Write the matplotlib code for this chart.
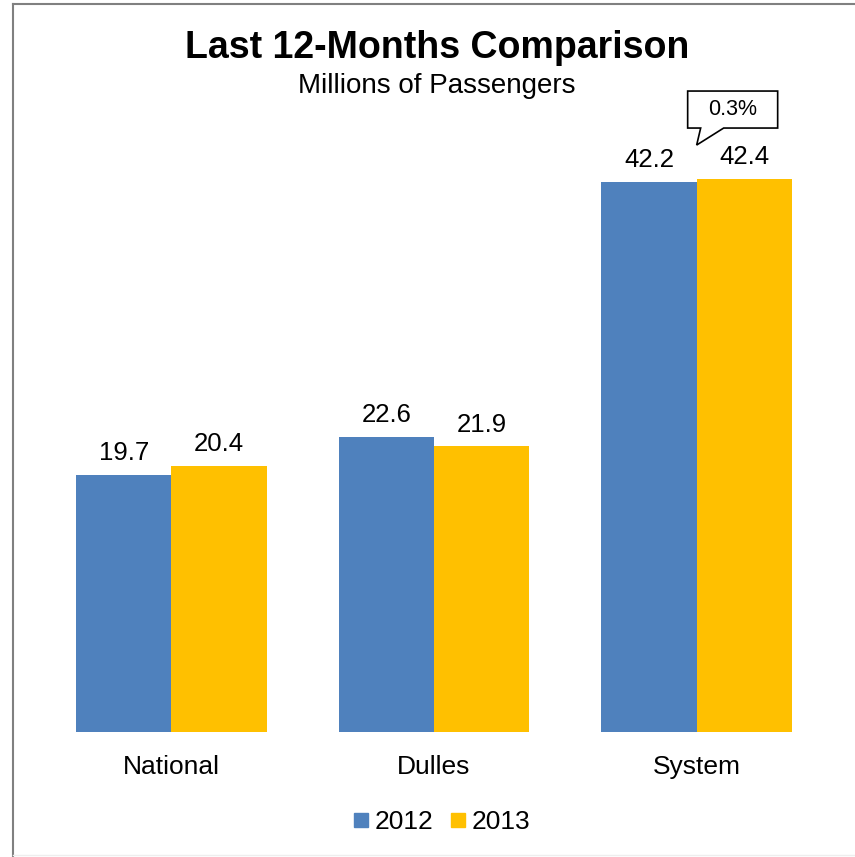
import numpy as np
import matplotlib.pyplot as plt
import matplotlib.transforms as mtransforms
from matplotlib.lines import Line2D
from matplotlib.patches import Polygon

plt.rcParams['font.family'] = ['Liberation Sans', 'DejaVu Sans']

categories = ['National', 'Dulles', 'System']
years = ['2012', '2013']
vals_2012 = [19.7, 22.6, 42.2]
vals_2013 = [20.4, 21.9, 42.4]
colors = ['#4F81BD', '#FFC000']
change_label = '0.3%'

fig = plt.figure(figsize=(8.55, 8.57), dpi=100)
ax = fig.add_axes([40/855, 125/857, 788/855, 600/857])

x = np.arange(len(categories))
w = 0.3625
b1 = ax.bar(x - w/2, vals_2012, w, color=colors[0], label=years[0])
b2 = ax.bar(x + w/2, vals_2013, w, color=colors[1], label=years[1])

for bars, vals in [(b1, vals_2012), (b2, vals_2013)]:
    for r, v in zip(bars, vals):
        ax.annotate(f'{v:.1f}', (r.get_x() + r.get_width()/2, v),
                    xytext=(0, 7), textcoords='offset points',
                    ha='center', va='bottom', fontsize=18.5)

# callout for system change: shape in points relative to its tip
tip_x, tip_y = x[2], vals_2013[2] + 2.6
trans = (mtransforms.Affine2D().scale(fig.dpi / 72)
         + mtransforms.ScaledTranslation(tip_x, tip_y, ax.transData))
shape = np.array([(0, 0), (27, 17), (81, 17), (81, 54), (-9, 54), (-9, 17), (4, 17)]) * 0.72
ax.add_patch(Polygon(shape, closed=True, fc='white', ec='black', lw=1.2,
                     transform=trans, clip_on=False))
ax.text(36 * 0.72, 36 * 0.72, change_label, transform=trans, ha='center', va='center',
        fontsize=15.5)

ax.set_xlim(-0.5, 2.5)
ax.set_ylim(0, 46)
ax.set_xticks(x)
ax.set_xticklabels(categories, fontsize=19)
ax.tick_params(axis='x', length=0, pad=16.5)
ax.set_yticks([])
for s in ax.spines.values():
    s.set_visible(False)

fig.text(0.511, 1 - 48/857, 'Last 12-Months Comparison', ha='center', va='center',
         fontsize=27, fontweight='bold')
fig.text(0.511, 1 - 86/857, 'Millions of Passengers', ha='center', va='center',
         fontsize=20)

handles = [Line2D([], [], marker='s', linestyle='', markersize=10,
                  markerfacecolor=c, markeredgecolor=c) for c in colors]
fig.legend(handles, years, loc='center', bbox_to_anchor=(0.514, 35/857), ncol=2,
           frameon=False, fontsize=19, handletextpad=0.05, columnspacing=0.5,
           handlelength=0.9)

# chart frame
fig.add_artist(Line2D([13/855, 13/855], [0, 1 - 4/857], color='#808080', lw=1.5))
fig.add_artist(Line2D([13/855, 1], [1 - 4/857, 1 - 4/857], color='#808080', lw=1.5))
fig.add_artist(Line2D([13/855, 1], [2/857, 2/857], color='#eeeeee', lw=1))

fig.savefig('out.png', dpi=100)
